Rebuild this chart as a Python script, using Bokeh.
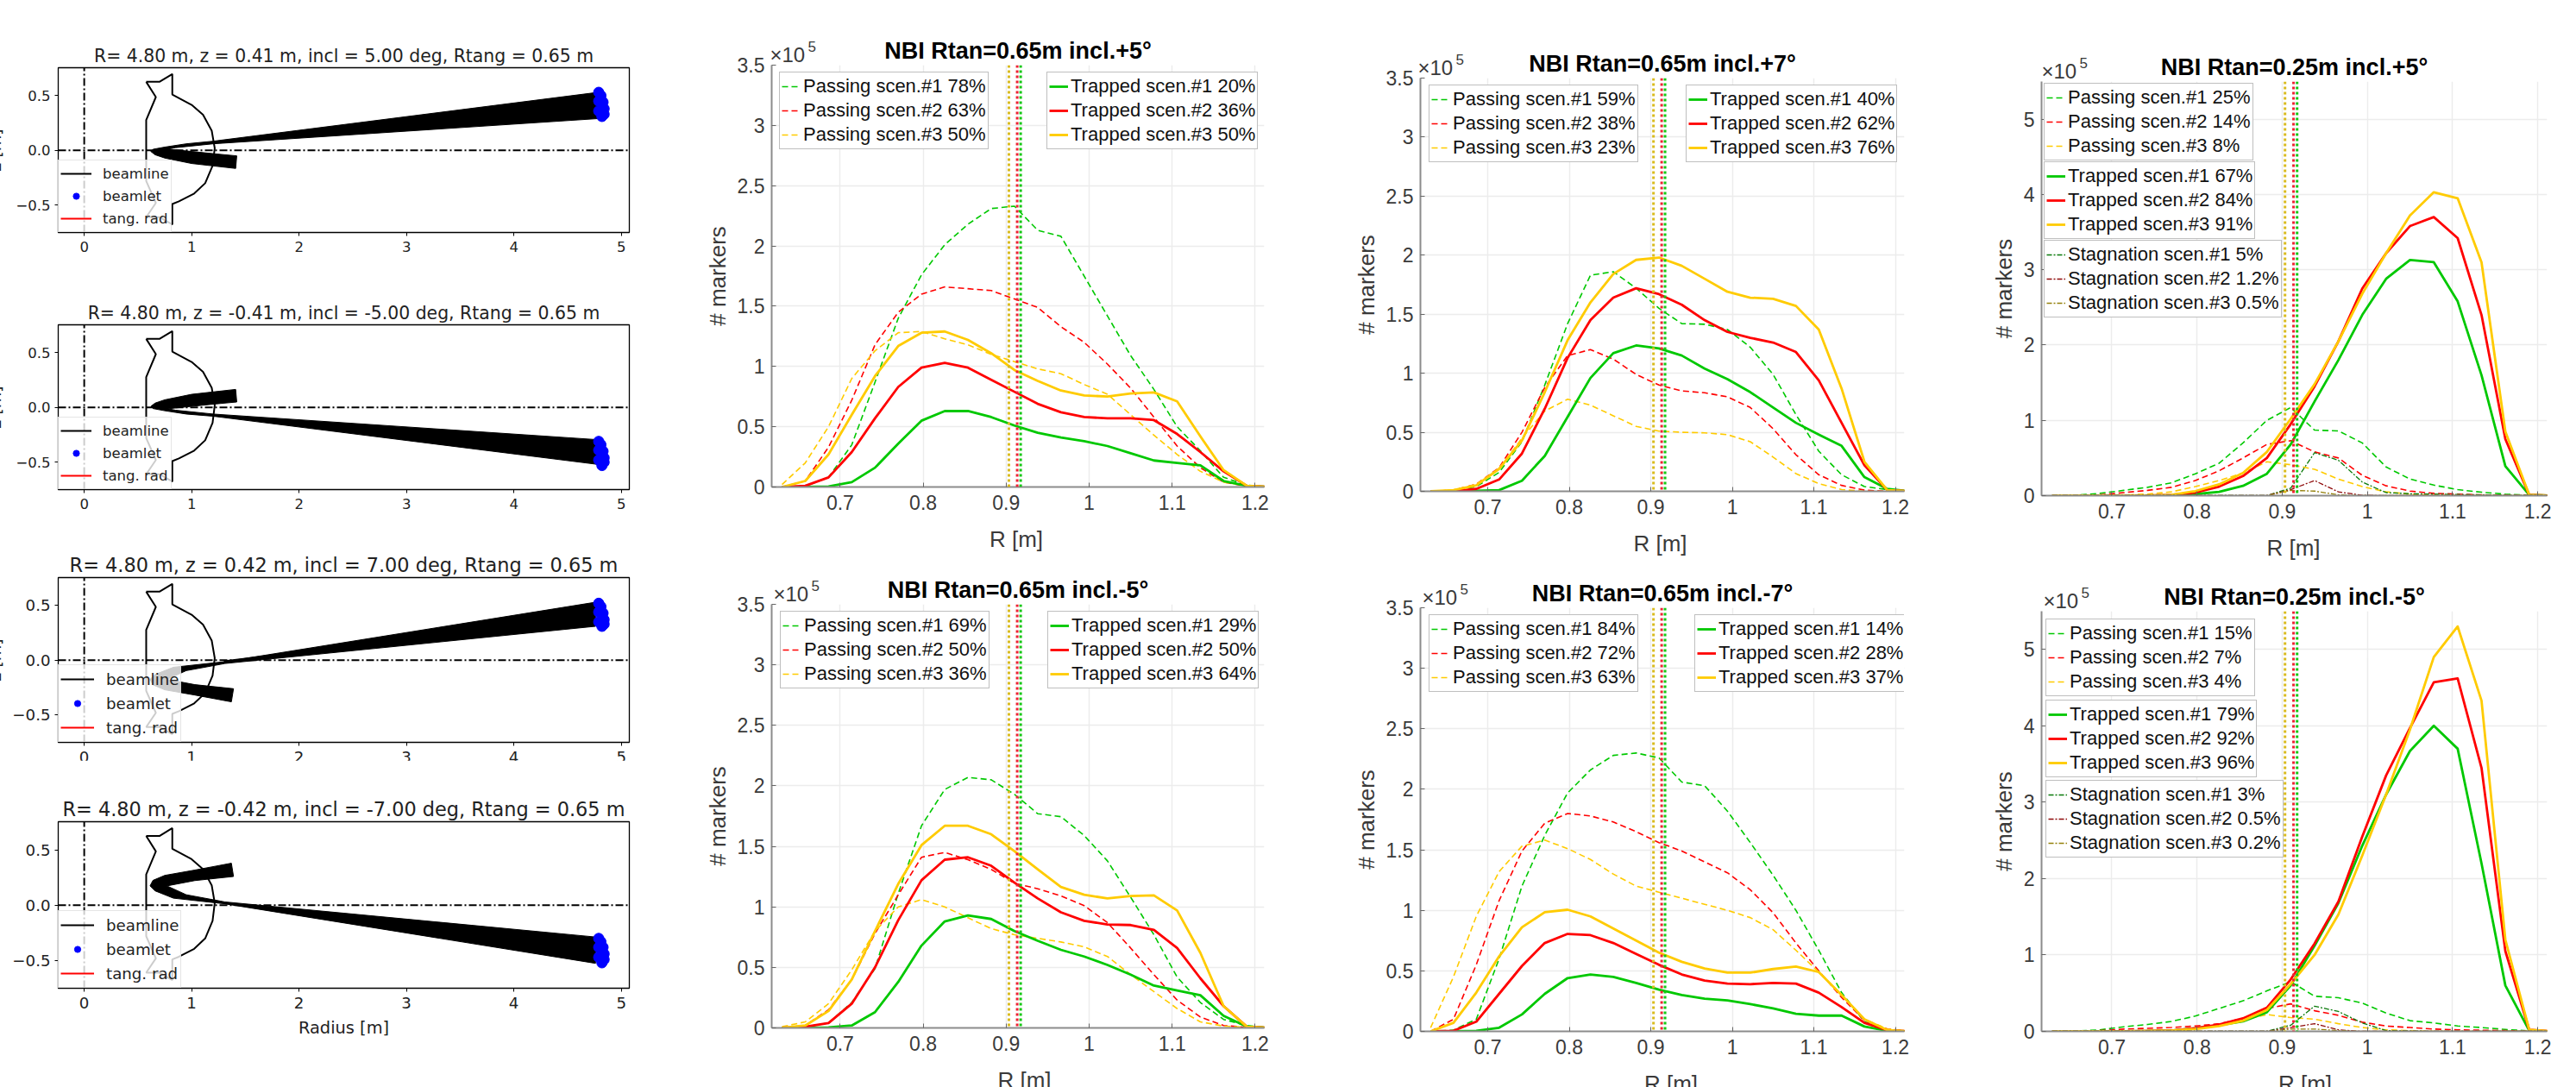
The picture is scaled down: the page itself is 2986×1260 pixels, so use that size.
import math
from bokeh.embed import file_html
from bokeh.resources import INLINE
from bokeh.plotting import figure
from bokeh.layouts import row, column
from bokeh.models import Legend, LegendItem, Label, Span, FixedTicker

R_GRID = [.63,.658,.686,.714,.742,.77,.798,.826,.854,.882,.91,.938,.966,.994,1.022,1.05,1.078,1.106,1.134,1.162,1.19,1.218]

# --- NBI Rtan=0.65m incl.+5
A_PASS1 = [0,.005,.08,.35,.87,1.4,1.76,2.01,2.18,2.31,2.33,2.13,2.08,1.75,1.42,1.09,.81,.5,.3,.08,.015,0]
A_PASS2 = [0,.05,.33,.72,1.18,1.45,1.6,1.66,1.645,1.63,1.56,1.49,1.33,1.2,1.02,.82,.58,.34,.16,.04,.005,0]
A_PASS3 = [.02,.2,.5,.9,1.13,1.28,1.29,1.23,1.18,1.1,1.04,.98,.94,.85,.77,.6,.43,.27,.13,.04,.01,0]
A_TRAP1 = [0,0,.005,.04,.16,.36,.55,.63,.63,.58,.51,.45,.41,.38,.34,.28,.22,.2,.18,.05,.01,0]
A_TRAP2 = [0,.01,.08,.29,.57,.83,.99,1.03,.99,.89,.79,.69,.62,.58,.57,.57,.555,.44,.29,.13,.01,0]
A_TRAP3 = [0,.05,.27,.6,.92,1.17,1.28,1.29,1.22,1.11,.97,.88,.8,.76,.75,.775,.785,.71,.42,.14,.01,0]
# --- NBI Rtan=0.65m incl.-5
B_PASS1 = [0,.01,.04,.21,.49,1.11,1.67,1.97,2.07,2.05,1.93,1.77,1.745,1.59,1.38,1.08,.77,.42,.21,.07,.02,0]
B_PASS2 = [0,.02,.15,.4,.78,1.1,1.41,1.45,1.39,1.31,1.195,1.15,1.09,1.01,.87,.66,.44,.23,.09,.02,.005,0]
B_PASS3 = [.01,.05,.2,.48,.8,1.0,1.06,1.0,.91,.82,.77,.74,.71,.67,.59,.44,.3,.16,.05,.015,.005,0]
B_TRAP1 = [0,0,.005,.02,.13,.38,.68,.88,.93,.9,.8,.72,.645,.59,.52,.44,.35,.31,.27,.1,.01,0]
B_TRAP2 = [0,.01,.04,.2,.5,.89,1.22,1.39,1.41,1.34,1.2,1.07,.955,.885,.855,.85,.81,.66,.41,.18,.01,0]
B_TRAP3 = [0,.02,.14,.4,.8,1.19,1.51,1.67,1.67,1.6,1.46,1.31,1.165,1.1,1.07,1.09,1.095,.97,.62,.18,.01,0]
# --- NBI Rtan=0.65m incl.+7
C_PASS1 = [0,.005,.04,.16,.42,.9,1.42,1.83,1.86,1.72,1.55,1.42,1.415,1.37,1.22,.99,.65,.34,.14,.04,.015,0]
C_PASS2 = [0,.01,.06,.2,.5,.88,1.15,1.2,1.12,.99,.9,.85,.835,.8,.71,.53,.31,.14,.05,.01,0,0]
C_PASS3 = [0,.01,.06,.19,.45,.68,.78,.73,.64,.55,.51,.5,.495,.48,.42,.29,.15,.065,.015,0,0,0]
C_TRAP1 = [0,0,.005,.01,.09,.3,.63,.96,1.17,1.235,1.21,1.15,1.04,.95,.84,.71,.58,.48,.385,.12,.02,0]
C_TRAP2 = [0,0,.02,.1,.32,.7,1.13,1.45,1.64,1.72,1.67,1.58,1.45,1.35,1.3,1.26,1.18,.94,.58,.22,.01,0]
C_TRAP3 = [0,.01,.05,.19,.43,.84,1.28,1.6,1.84,1.96,1.98,1.91,1.8,1.69,1.64,1.63,1.57,1.37,.87,.25,.01,0]
# --- NBI Rtan=0.65m incl.-7
D_PASS1 = [0,.01,.1,.6,1.2,1.62,1.97,2.16,2.28,2.3,2.26,2.06,2.03,1.82,1.56,1.29,1.0,.67,.32,.08,.01,0]
D_PASS2 = [0,.1,.55,1.08,1.49,1.72,1.8,1.78,1.73,1.65,1.56,1.49,1.4,1.31,1.17,.98,.73,.5,.28,.09,.02,0]
D_PASS3 = [.03,.45,.95,1.32,1.53,1.58,1.51,1.42,1.3,1.2,1.15,1.1,1.05,1.0,.94,.84,.67,.49,.3,.1,.02,0]
D_TRAP1 = [0,0,.005,.03,.14,.31,.44,.47,.45,.4,.345,.3,.27,.255,.225,.19,.145,.13,.13,.04,.005,0]
D_TRAP2 = [0,.005,.08,.31,.54,.73,.805,.795,.73,.64,.55,.47,.42,.395,.39,.4,.395,.32,.2,.07,.01,0]
D_TRAP3 = [0,.07,.32,.62,.86,.985,1.005,.95,.85,.75,.65,.575,.52,.485,.485,.515,.535,.49,.3,.1,.01,0]
# --- NBI Rtan=0.25m incl.+5
E_PASS1 = [0,.005,.03,.07,.11,.17,.29,.43,.7,1.0,1.17,.87,.86,.7,.38,.22,.14,.08,.045,.02,.005,0]
E_PASS2 = [0,0,.01,.04,.07,.11,.2,.33,.5,.68,.73,.58,.5,.27,.13,.06,.03,.02,.01,.005,0,0]
E_PASS3 = [0,0,0,.01,.02,.05,.12,.2,.3,.45,.41,.35,.22,.12,.05,.02,.005,0,0,0,0,0]
E_TRAP1 = [0,0,0,0,0,.005,.02,.05,.13,.29,.68,1.25,1.8,2.4,2.88,3.13,3.1,2.58,1.6,.39,.01,0]
E_TRAP2 = [0,0,0,0,0,.01,.04,.12,.26,.5,.95,1.45,2.05,2.75,3.22,3.58,3.7,3.42,2.4,.75,.01,0]
E_TRAP3 = [0,0,0,0,0,.01,.06,.15,.3,.58,1.02,1.48,2.05,2.68,3.22,3.72,4.03,3.95,3.1,.85,.01,0]
E_STAG1 = [0,0,0,0,0,0,0,0,0,0,.1,.57,.47,.18,.04,.025,.02,.015,.01,.005,0,0]
E_STAG2 = [0,0,0,0,0,0,0,0,0,0,.08,.2,.05,.005,0,0,0,0,0,0,0,0]
E_STAG3 = [0,0,0,0,0,0,0,0,0,0,.07,.06,.01,0,0,0,0,0,0,0,0,0]
# --- NBI Rtan=0.25m incl.-5
F_PASS1 = [0,.005,.02,.06,.09,.13,.2,.3,.4,.53,.65,.46,.44,.37,.24,.14,.11,.07,.05,.025,.005,0]
F_PASS2 = [0,.005,.01,.03,.04,.05,.07,.1,.17,.3,.36,.27,.21,.12,.07,.05,.03,.02,.015,.01,0,0]
F_PASS3 = [0,0,0,.005,.01,.02,.04,.07,.15,.22,.18,.16,.1,.05,.02,.01,0,0,0,0,0,0]
F_TRAP1 = [0,0,0,0,.005,.01,.04,.08,.13,.25,.6,1.12,1.68,2.43,3.1,3.67,4.0,3.7,2.2,.6,.01,0]
F_TRAP2 = [0,0,0,0,.005,.01,.04,.09,.17,.31,.68,1.15,1.7,2.55,3.35,3.97,4.57,4.62,3.45,1.05,.02,0]
F_TRAP3 = [0,0,0,0,.005,.01,.03,.07,.14,.28,.62,1.0,1.53,2.3,3.1,3.95,4.9,5.3,4.33,1.2,.02,0]
F_STAG1 = [0,0,0,0,0,0,0,0,0,0,.08,.33,.26,.11,.01,.005,0,0,0,0,0,0]
F_STAG2 = [0,0,0,0,0,0,0,0,0,0,.05,.1,.02,0,0,0,0,0,0,0,0,0]
F_STAG3 = [0,0,0,0,0,0,0,0,0,0,.03,.03,.01,0,0,0,0,0,0,0,0,0]

VLINES_X = [.9033, .9133, .9175]
VLINE_COLORS = ["#d9bb1f", "#ee2233", "#14c814"]

X_TICKS = [.7,.8,.9,1,1.1,1.2]
X_TICK_LABELS = ["0.7","0.8","0.9","1","1.1","1.2"]
Y_TICKS_A = [0,.5,1,1.5,2,2.5,3,3.5]
Y_TICK_LABELS_A = ["0","0.5","1","1.5","2","2.5","3","3.5"]
Y_TICKS_E = [0,1,2,3,4,5]

# --- tokamak cross-section and beam outlines
VESSEL_R = [.577,.70,.82,.82,1.0,1.106,1.187,1.215,1.195,1.126,1.024,.882,.82,.82,.70,.577,.667,.577,.577,.667,.577]
VESSEL_Z = [.626,.626,.697,.51,.416,.326,.18,.02,-.14,-.30,-.394,-.465,-.49,-.677,-.61,-.61,-.48,-.28,.278,.487,.626]

BEAM5_R = [4.78,1.2,.95,.75,.64,.62,.66,.75,1.0,1.41,1.42,1.2,1.0,.78,.85,1.2,4.78]
BEAM5_Z = [.53,.084,.06,.03,.01,-.01,-.04,-.07,-.12,-.165,-.05,-.03,-.01,.012,.025,.06,.29]
BEAM5N_Z = [-.52,-.08,-.06,-.03,-.01,.01,.04,.07,.12,.165,.05,.03,.01,-.012,-.025,-.06,-.294]
BEAM7_R = [4.76,1.31,.83,.66,.613,.64,.75,1.03,1.37,1.39,1.03,.77,.95,1.31,4.76]
BEAM7N_Z = [-.525,.013,.064,.13,.175,.225,.27,.318,.38,.26,.223,.175,.095,.03,-.287]
BEAM7_Z = [.53,-.013,-.064,-.13,-.175,-.225,-.27,-.318,-.38,-.26,-.223,-.175,-.095,-.03,.31]
BEAMLET_R = [4.79,4.81,4.83,4.84,4.84,4.82,4.79,4.79]
BEAMLET5_Z = [.53,.5,.44,.38,.33,.31,.36,.45]
BEAMLET5N_Z = [-.31,-.34,-.4,-.46,-.5,-.53,-.48,-.39]
BEAMLET7_Z = [.52,.49,.43,.37,.33,.31,.35,.44]
BEAMLET7N_Z = [-.3,-.33,-.38,-.44,-.49,-.52,-.47,-.38]
BEAMLINE_R = [4.8, 1.3]
BEAMLINE5_Z = [.41, .08]
BEAMLINE5N_Z = [-.41, -.08]
BEAMLINE7_Z = [.42, -.01]
BEAMLINE7N_Z = [-.42, .02]

GREEN, RED, YELLOW = "#00c800", "#ff0000", "#ffcb00"
DGREEN, DRED, DYELLOW = "#0a7a0a", "#8e0a0a", "#94800a"
M_FONT, P_FONT = "Liberation Sans", "DejaVu Sans"
TXT = "#3a3a3a"

# a transparent page-sized layer carries the few texts that lie outside the plot frames
PAGE_W, PAGE_H = 2986, 1260
page = figure(width=PAGE_W, height=PAGE_H, x_range=(0, PAGE_W), y_range=(PAGE_H, 0), min_border=0,
              x_axis_location=None, y_axis_location=None, output_backend="svg", toolbar_location=None)
page.xgrid.visible = False
page.ygrid.visible = False
page.outline_line_color = None
page.background_fill_color = None
page.border_fill_color = None
page.margin = (-PAGE_H, 0, 0, 0)


def page_label(x, y, text, font, size, color, align="left", angle=0.0):
    page.add_layout(Label(x=x, y=y, text=text, text_align=align, text_baseline="middle", angle=angle,
                          text_font=font, text_font_size=size, text_color=color))


def matlab_panel(box, frame, title, ymax, yticks, ylabels, series, legends):
    L, T, Rr, B = box
    fl, ft, fr, fb = frame
    xmin, xmax = .6175, 1.211
    p = figure(width=Rr - L, height=B - T, x_range=(xmin, xmax), y_range=(0, ymax),
               min_border_left=fl - L, min_border_right=Rr - fr, min_border_top=ft - T, min_border_bottom=B - fb,
               output_backend="svg", toolbar_location=None)
    p.outline_line_color = None
    p.title.text = title
    p.title.align = "center"
    p.title.text_font = M_FONT
    p.title.text_font_size = "27px"
    p.title.text_font_style = "bold"
    p.title.text_color = "#000000"
    p.title.standoff = 3
    for ax in (p.xaxis[0], p.yaxis[0]):
        ax.axis_line_color = "#8c8c8c"
        ax.axis_line_width = 2
        ax.major_tick_line_color = "#666666"
        ax.major_tick_in = 5
        ax.major_tick_out = 0
        ax.minor_tick_line_color = None
        ax.major_label_text_font = M_FONT
        ax.major_label_text_font_size = "23px"
        ax.major_label_text_color = TXT
    p.xaxis[0].ticker = FixedTicker(ticks=X_TICKS)
    p.xaxis[0].major_label_overrides = dict(zip(X_TICKS, X_TICK_LABELS))
    p.xaxis[0].major_label_standoff = 9
    p.yaxis[0].ticker = FixedTicker(ticks=yticks)
    p.yaxis[0].major_label_overrides = dict(zip(yticks, ylabels))
    p.yaxis[0].major_label_standoff = 8
    p.yaxis[0].axis_label = "# markers"
    p.yaxis[0].axis_label_text_font = M_FONT
    p.yaxis[0].axis_label_text_font_size = "26px"
    p.yaxis[0].axis_label_text_font_style = "normal"
    p.yaxis[0].axis_label_text_color = TXT
    p.yaxis[0].axis_label_standoff = 5
    p.xgrid.grid_line_color = "#ececec"
    p.ygrid.grid_line_color = "#ececec"
    p.xgrid.grid_line_width = 1.5
    p.ygrid.grid_line_width = 1.5
    p.xgrid.ticker = FixedTicker(ticks=X_TICKS)
    p.ygrid.ticker = FixedTicker(ticks=yticks)
    rend = {}
    for key, vals, color, dash, w in series:
        assert len(vals) == len(R_GRID), key
        rend[key] = p.line(R_GRID, vals, line_color=color, line_dash=dash, line_width=w, line_join="round")
    for xv, c in zip(VLINES_X, VLINE_COLORS):
        p.add_layout(Span(location=xv, dimension="height", line_color=c, line_dash="3 3", line_width=3))
    for x_off, top, items in legends:
        lg = Legend(items=[LegendItem(label=lab, renderers=[rend[k]]) for k, lab in items],
                    location=(x_off, (fb - ft) - top - 88), margin=0, padding=2, spacing=0,
                    label_height=28, glyph_width=22, glyph_height=20, label_standoff=3,
                    label_text_font=M_FONT, label_text_font_size="22px", label_text_color="#111111",
                    border_line_color="#808080", border_line_width=1.3, background_fill_alpha=1.0)
        p.add_layout(lg, "center")
    page_label((fl + fr) / 2, fb + 60, "R [m]", M_FONT, "26px", TXT, align="center")
    page_label(fl + 2, ft - 12, "×10", M_FONT, "24px", TXT)
    page_label(fl + 46, ft - 22, "5", M_FONT, "17px", TXT)
    return p


def series6(pass1, pass2, pass3, trap1, trap2, trap3):
    return [("p1", pass1, GREEN, "7 4", 1.6), ("p2", pass2, RED, "7 4", 1.6), ("p3", pass3, YELLOW, "7 4", 1.6),
            ("t1", trap1, GREEN, "solid", 2.8), ("t2", trap2, RED, "solid", 2.8), ("t3", trap3, YELLOW, "solid", 2.8)]


def stag3(s1, s2, s3):
    return [("s1", s1, DGREEN, "6 2 2 2", 1.3), ("s2", s2, DRED, "6 2 2 2", 1.3), ("s3", s3, DYELLOW, "6 2 2 2", 1.3)]


def leg(prefix, key, vals):
    return [(f"{key}{i+1}", f"{prefix} scen.#{i+1} {v}%") for i, v in enumerate(vals)]


def beam_panel(box, frame, title, beam_r, beam_z, blet_z, line_z, scale, ylab=True, xlab=False):
    L, T, Rr, B = box
    fl, ft, fr, fb = frame
    xmin, xmax = -.242, 5.075
    ymin, ymax = -.75, .755
    p = figure(width=Rr - L, height=B - T, x_range=(xmin, xmax), y_range=(ymin, ymax),
               min_border_left=fl - L, min_border_right=Rr - fr, min_border_top=ft - T, min_border_bottom=B - fb,
               output_backend="svg", toolbar_location=None)
    p.outline_line_color = "#000000"
    p.outline_line_width = 1.3
    p.xgrid.visible = False
    p.ygrid.visible = False
    p.title.text = title
    p.title.align = "center"
    p.title.text_font = P_FONT
    p.title.text_font_size = f"{20.4 * scale:.1f}px"
    p.title.text_font_style = "normal"
    p.title.text_color = "#222222"
    p.title.standoff = 4
    for ax in (p.xaxis[0], p.yaxis[0]):
        ax.axis_line_color = None
        ax.major_tick_line_color = "#000000"
        ax.major_tick_in = 0
        ax.major_tick_out = 4
        ax.minor_tick_line_color = None
        ax.major_label_text_font = P_FONT
        ax.major_label_text_font_size = f"{16.5 * scale:.1f}px"
        ax.major_label_text_color = "#222222"
    xt = [0, 1, 2, 3, 4, 5]
    yt = [-.5, 0, .5]
    p.xaxis[0].ticker = FixedTicker(ticks=xt)
    p.xaxis[0].major_label_overrides = {v: str(v) for v in xt}
    p.xaxis[0].major_label_standoff = 6
    p.yaxis[0].ticker = FixedTicker(ticks=yt)
    p.yaxis[0].major_label_overrides = {-.5: "−0.5", 0: "0.0", .5: "0.5"}
    p.yaxis[0].major_label_standoff = 5
    if xlab:
        p.xaxis[0].axis_label = "Radius [m]"
        p.xaxis[0].axis_label_text_font = P_FONT
        p.xaxis[0].axis_label_text_font_size = "19.4px"
        p.xaxis[0].axis_label_text_font_style = "normal"
        p.xaxis[0].axis_label_text_color = "#222222"
        p.xaxis[0].axis_label_standoff = 8
    if ylab:
        page_label(1, (ft + fb) / 2, "z [m]", P_FONT, "19px", "#222222", align="center", angle=math.pi / 2)
    p.line(VESSEL_R, VESSEL_Z, line_color="#000000", line_width=2)
    p.patch(beam_r, beam_z, fill_color="#000000", line_color="#000000", line_width=1)
    p.line([xmin, xmax], [0, 0], line_color="#000000", line_width=2, line_dash="9 3 2 3")
    p.line([0, 0], [ymin, ymax], line_color="#000000", line_width=2, line_dash="9 3 2 3")
    r1 = p.line(BEAMLINE_R, line_z, line_color="#000000", line_width=2)
    r2 = p.scatter(BEAMLET_R, blet_z, size=12, marker="circle", fill_color="#0000ff", line_color="#0000ff")
    r3 = p.line([0.65], [0], line_color="#ff0000", line_width=2)
    lg = Legend(items=[LegendItem(label="beamline", renderers=[r1]), LegendItem(label="beamlet", renderers=[r2]),
                       LegendItem(label="tang. rad", renderers=[r3])],
                location=(0, 0), margin=0, padding=2 , spacing=0, label_height=int(26 * scale),
                glyph_width=int(36 * scale), glyph_height=18, label_standoff=int(13 * scale),
                label_text_font=P_FONT, label_text_font_size=f"{16.5 * scale:.1f}px", label_text_color="#222222",
                border_line_color="#cccccc", border_line_width=1.3, background_fill_alpha=.8)
    p.add_layout(lg, "center")
    return p


P1 = beam_panel((0, 0, 800, 340), (68, 78, 737, 269), "R= 4.80 m, z = 0.41 m, incl = 5.00 deg, Rtang = 0.65 m",
                BEAM5_R, BEAM5_Z, BEAMLET5_Z, BEAMLINE5_Z, 1.0)
P2 = beam_panel((0, 340, 800, 630), (69, 376, 738, 567), "R= 4.80 m, z = -0.41 m, incl = -5.00 deg, Rtang = 0.65 m",
                BEAM5_R, BEAM5N_Z, BEAMLET5N_Z, BEAMLINE5N_Z, 1.0)
P3 = beam_panel((0, 630, 800, 901), (75, 669, 744, 860), "R= 4.80 m, z = 0.42 m, incl = 7.00 deg, Rtang = 0.65 m",
                BEAM7_R, BEAM7_Z, BEAMLET7_Z, BEAMLINE7_Z, 1.1)
P4 = beam_panel((0, 881, 800, 1260), (66, 952, 744, 1145), "R= 4.80 m, z = -0.42 m, incl = -7.00 deg, Rtang = 0.65 m",
                BEAM7_R, BEAM7N_Z, BEAMLET7N_Z, BEAMLINE7N_Z, 1.1, ylab=False, xlab=True)
P4.margin = (-20, 0, 0, 0)

A = matlab_panel((800, 0, 1540, 648), (898, 75, 1473, 564), "NBI Rtan=0.65m incl.+5°", 3.5, Y_TICKS_A, Y_TICK_LABELS_A,
                 series6(A_PASS1, A_PASS2, A_PASS3, A_TRAP1, A_TRAP2, A_TRAP3),
                 [(9, 10, leg("Passing", "p", [78, 63, 50])), (319, 10, leg("Trapped", "t", [20, 36, 50]))])
B = matlab_panel((800, 648, 1540, 1260), (902, 700, 1488, 1191), "NBI Rtan=0.65m incl.-5°", 3.5, Y_TICKS_A, Y_TICK_LABELS_A,
                 series6(B_PASS1, B_PASS2, B_PASS3, B_TRAP1, B_TRAP2, B_TRAP3),
                 [(10, 10, leg("Passing", "p", [69, 50, 36])), (320, 10, leg("Trapped", "t", [29, 50, 64]))])
C = matlab_panel((1540, 0, 2280, 648), (1649, 90, 2215, 569), "NBI Rtan=0.65m incl.+7°", 3.5, Y_TICKS_A, Y_TICK_LABELS_A,
                 series6(C_PASS1, C_PASS2, C_PASS3, C_TRAP1, C_TRAP2, C_TRAP3),
                 [(10, 10, leg("Passing", "p", [59, 38, 23])), (308, 10, leg("Trapped", "t", [40, 62, 76]))])
D = matlab_panel((1540, 648, 2280, 1260), (1654, 704, 2235, 1195), "NBI Rtan=0.65m incl.-7°", 3.5, Y_TICKS_A, Y_TICK_LABELS_A,
                 series6(D_PASS1, D_PASS2, D_PASS3, D_TRAP1, D_TRAP2, D_TRAP3),
                 [(10, 10, leg("Passing", "p", [84, 72, 63])), (318, 10, leg("Trapped", "t", [14, 28, 37]))])
E = matlab_panel((2280, 0, 2986, 648), (2372, 94, 2960, 574), "NBI Rtan=0.25m incl.+5°", 5.5, Y_TICKS_E, [str(v) for v in Y_TICKS_E],
                 series6(E_PASS1, E_PASS2, E_PASS3, E_TRAP1, E_TRAP2, E_TRAP3) + stag3(E_STAG1, E_STAG2, E_STAG3),
                 [(3, 4, [("p1", "Passing scen.#1 25%"), ("p2", "Passing scen.#2 14%"), ("p3", "Passing scen.#3 8%")]),
                  (3, 95, leg("Trapped", "t", [67, 84, 91])),
                  (3, 186, [("s1", "Stagnation scen.#1 5%"), ("s2", "Stagnation scen.#2 1.2%"), ("s3", "Stagnation scen.#3 0.5%")])])
F = matlab_panel((2280, 648, 2986, 1260), (2374, 708, 2985, 1195), "NBI Rtan=0.25m incl.-5°", 5.5, Y_TICKS_E, [str(v) for v in Y_TICKS_E],
                 series6(F_PASS1, F_PASS2, F_PASS3, F_TRAP1, F_TRAP2, F_TRAP3) + stag3(F_STAG1, F_STAG2, F_STAG3),
                 [(5, 11, [("p1", "Passing scen.#1 15%"), ("p2", "Passing scen.#2 7%"), ("p3", "Passing scen.#3 4%")]),
                  (5, 105, leg("Trapped", "t", [79, 92, 96])),
                  (5, 198, [("s1", "Stagnation scen.#1 3%"), ("s2", "Stagnation scen.#2 0.5%"), ("s3", "Stagnation scen.#3 0.2%")])])

panels = row(column(P1, P2, P3, P4), column(A, B), column(C, D), column(E, F))
root = column(panels, page, margin=(0, -8, -8, -8))
open("out.html", "w").write(file_html(root, INLINE))
